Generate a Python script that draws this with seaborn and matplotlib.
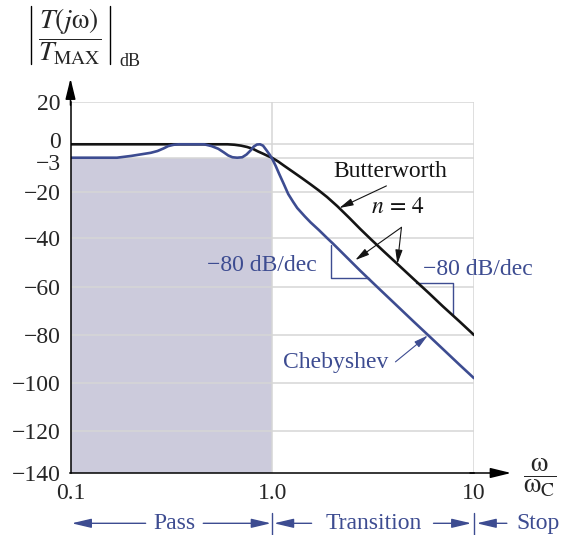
import numpy as np
import pandas as pd
import matplotlib
matplotlib.use("Agg")
import matplotlib.pyplot as plt
from matplotlib.lines import Line2D
from matplotlib.ticker import LogLocator, NullFormatter, NullLocator
from matplotlib.transforms import ScaledTranslation
import seaborn as sns

# ---- data: magnitude response (dB) versus normalised frequency omega/omega_C, n = 4 ----
butter_w = [0.1, 0.3, 0.5, 0.6, 0.65, 0.7, 0.75, 0.8, 0.85, 0.9, 0.95, 1.0, 1.07, 1.15,
            1.28, 1.4, 1.55, 1.7, 1.87, 2.1, 2.4, 2.73, 3.1, 3.57, 4.17, 5.0, 6.0, 7.0,
            8.5, 10.0]
butter_db = [0.0, 0.0, 0.0, 0.0, -0.1, -0.3, -0.6, -1.0, -1.6, -2.1, -2.6, -3.1, -4.9, -7.15,
             -10.4, -13.15, -16.35, -19.35, -22.3, -26.2, -31.1, -36.0, -40.6, -45.4, -50.6,
             -56.7, -62.8, -68.1, -74.5, -80.0]

cheby_w = [0.1, 0.14, 0.17, 0.2, 0.22, 0.25, 0.27, 0.29, 0.305, 0.325, 0.345, 0.40, 0.46,
           0.50, 0.54, 0.575, 0.605, 0.635, 0.67, 0.71, 0.745, 0.78, 0.81, 0.84, 0.87, 0.90,
           0.935, 0.97, 1.0, 1.04, 1.08, 1.14, 1.2, 1.27, 1.33, 1.45, 1.55, 1.7, 1.87, 2.0,
           2.26, 2.73, 3.37, 4.0, 5.0, 6.0, 7.0, 8.5, 10.0]
cheby_db = [-3.0, -3.0, -3.0, -2.6, -2.3, -1.9, -1.5, -0.9, -0.4, -0.1, 0.0, 0.0, 0.0,
            -0.4, -1.0, -1.8, -2.5, -2.9, -3.0, -2.9, -2.3, -1.4, -0.5, -0.05, 0.0, -0.3,
            -1.3, -2.3, -3.6, -7.1, -10.9, -16.1, -21.0, -24.4, -27.0, -30.6, -33.2, -36.4,
            -39.9, -42.2, -46.6, -53.4, -60.7, -66.6, -74.3, -80.5, -85.8, -92.5, -98.0]

y_ticks = [20, 0, -3, -20, -40, -60, -80, -100, -120, -140]
y_tick_labels = ["20", "0", "\u22123", "\u221220", "\u221240", "\u221260", "\u221280",
                 "\u2212100", "\u2212120", "\u2212140"]
x_ticks = [0.1, 1.0, 10.0]
x_tick_labels = ["0.1", "1.0", "10"]

passband_edge = 1.0
stopband_edge = 10.0
ripple_db = -3

# ---- styling ----
BLUE = "#3d4c91"
BLACK = "#141414"
SHADE = "#cccbdc"
GRID = "#d6d6d6"
FS = 17

sns.set_style("white")
plt.rcParams["font.family"] = ["Liberation Serif", "DejaVu Serif"]
plt.rcParams["mathtext.fontset"] = "stix"
plt.rcParams["axes.unicode_minus"] = True

# The dB axis is drawn schematically: the 0..-3 dB band is stretched.
# Fraction of the axis height at which each tick value sits.
axis_frac = [1.0, 0.8848, 0.8487, 0.7572, 0.6318, 0.5015, 0.3715, 0.2423, 0.1131, 0.0]
_xp = np.array(y_ticks[::-1], float)
_fp = np.array(axis_frac[::-1], float)
_s0 = (_fp[1] - _fp[0]) / (_xp[1] - _xp[0])
_s1 = (_fp[-1] - _fp[-2]) / (_xp[-1] - _xp[-2])


def db_forward(v):
    v = np.asarray(v, float)
    return np.where(v < _xp[0], _fp[0] + (v - _xp[0]) * _s0,
                    np.where(v > _xp[-1], _fp[-1] + (v - _xp[-1]) * _s1,
                             np.interp(v, _xp, _fp)))


def db_inverse(p):
    p = np.asarray(p, float)
    return np.where(p < _fp[0], _xp[0] + (p - _fp[0]) / _s0,
                    np.where(p > _fp[-1], _xp[-1] + (p - _fp[-1]) / _s1,
                             np.interp(p, _fp, _xp)))


W, H = 562, 535
fig = plt.figure(figsize=(W / 100, H / 100), dpi=100)
ax = fig.add_axes([70.5 / W, (H - 473) / H, (474 - 70.5) / W, (473 - 101.5) / H])
ax.set_xscale("log")
ax.set_yscale("function", functions=(db_forward, db_inverse))
ax.set_xlim(0.1, 10)
ax.set_ylim(-140, 20)

# pass band shading
ax.fill_between([0.1, passband_edge], -140, ripple_db, color=SHADE, lw=0, zorder=0.5)

# grid
for v in y_ticks[:-1]:
    ax.plot([0.1, 10], [v, v], color=GRID, lw=1.1, zorder=1)
for xv in (passband_edge, stopband_edge):
    ax.plot([xv, xv], [-140, 20], color=GRID, lw=1.1, zorder=1)

# response curves
df = pd.concat([
    pd.DataFrame({"w": butter_w, "db": butter_db, "filter": "Butterworth"}),
    pd.DataFrame({"w": cheby_w, "db": cheby_db, "filter": "Chebyshev"}),
], ignore_index=True)
sns.lineplot(data=df, x="w", y="db", hue="filter", hue_order=["Butterworth", "Chebyshev"],
             palette={"Butterworth": BLACK, "Chebyshev": BLUE}, estimator=None, sort=False,
             legend=False, linewidth=1.9, ax=ax, zorder=4)
for ln in ax.get_lines()[-2:]:
    ln.set_solid_joinstyle("round")
ax.set_xlabel("")
ax.set_ylabel("")

# axes, ticks
for s in ("top", "right"):
    ax.spines[s].set_visible(False)
for s in ("left", "bottom"):
    ax.spines[s].set_color("black")
    ax.spines[s].set_linewidth(1.1)
    ax.spines[s].set_zorder(5)

ax.set_xticks(x_ticks, x_tick_labels)
ax.xaxis.set_minor_locator(LogLocator(base=10, subs=np.arange(2, 10)))
ax.xaxis.set_minor_formatter(NullFormatter())
ax.tick_params(axis="x", which="both", direction="in", length=7, width=1.0, color="black",
               labelsize=FS, pad=7)
ax.set_yticks(y_ticks, y_tick_labels)
ax.yaxis.set_minor_locator(NullLocator())
ax.tick_params(axis="y", which="both", length=0, labelsize=FS, pad=7)

# separate the crowded 0 / -3 labels a little
for lbl in ax.get_yticklabels():
    if lbl.get_text() == "0":
        lbl.set_transform(lbl.get_transform() + ScaledTranslation(0, 3 / 72, fig.dpi_scale_trans))
    elif lbl.get_text() == "\u22123":
        lbl.set_transform(lbl.get_transform() + ScaledTranslation(0, -3 / 72, fig.dpi_scale_trans))

# axis arrows
axis_head = dict(arrowstyle="-|>,head_length=0.9,head_width=0.22", color="black",
                 lw=1.1, mutation_scale=14, shrinkA=0, shrinkB=0)
ax.annotate("", xy=(0, 1.062), xytext=(0, 0.99), xycoords="axes fraction",
            arrowprops=axis_head, annotation_clip=False)
ax.annotate("", xy=(1.092, 0), xytext=(0.99, 0), xycoords="axes fraction",
            arrowprops=axis_head, annotation_clip=False)

# curve labels
ax.text(3.83, -12.5, "Butterworth", ha="center", va="baseline", fontsize=FS, color=BLACK,
        zorder=6)
ax.text(4.17, -29.0, r"$n\,=\,4$", ha="center", va="baseline", fontsize=FS, color=BLACK,
        zorder=6)
ax.text(0.885, -53.6, "\u221280 dB/dec", ha="center", va="baseline", fontsize=FS, color=BLUE,
        zorder=6)
ax.text(10.5, -55.2, "\u221280 dB/dec", ha="center", va="baseline", fontsize=FS, color=BLUE,
        zorder=6, clip_on=False)
ax.text(2.07, -93.9, "Chebyshev", ha="center", va="baseline", fontsize=FS, color=BLUE,
        zorder=6)

thin_head = "-|>,head_length=0.7,head_width=0.18"
for tip, tail, col in [((2.15, -27.0), (3.68, -17.1), BLACK),
                       ((2.58, -49.0), (4.37, -35.3), BLACK),
                       ((4.17, -50.6), (4.37, -35.3), BLACK),
                       ((5.9, -80.2), (4.08, -91.2), BLUE)]:
    ax.annotate("", xy=tip, xytext=tail,
                arrowprops=dict(arrowstyle=thin_head, color=col, lw=0.8, mutation_scale=12,
                                shrinkA=0, shrinkB=0))

# -80 dB/dec slope brackets
ax.plot([1.96, 1.96, 3.0], [-42.8, -56.4, -56.4], color=BLUE, lw=1.0, zorder=3)
ax.plot([5.13, 7.9, 7.9], [-58.5, -58.5, -71.7], color=BLUE, lw=1.0, zorder=3)

# band labels under the frequency axis
xt = ax.get_xaxis_transform()
band_y = -0.1354
text_y = -0.1500
for xv in (passband_edge, stopband_edge):
    ax.plot([xv, xv], [-0.1077, -0.175], color=BLUE, lw=1.0, transform=xt, clip_on=False)

band_arrow = dict(arrowstyle="-|>,head_length=0.85,head_width=0.2", color=BLUE, lw=1.0,
                  mutation_scale=14, shrinkA=0, shrinkB=0)
for tail, tip in [(0.2357, 0.1014), (0.455, 0.985), (1.567, 1.02), (6.3, 9.7), (14.55, 10.3)]:
    ax.annotate("", xy=(tip, band_y), xytext=(tail, band_y), xycoords=xt, textcoords=xt,
                arrowprops=band_arrow, annotation_clip=False)
ax.text(0.329, text_y, "Pass", transform=xt, ha="center", va="baseline", fontsize=FS,
        color=BLUE)
ax.text(3.17, text_y, "Transition", transform=xt, ha="center", va="baseline", fontsize=FS,
        color=BLUE)
ax.text(16.3, text_y, "Stop", transform=xt, ha="left", va="baseline", fontsize=FS,
        color=BLUE)


# axis titles
def fx(px):
    return px / W


def fy(py):
    return 1 - py / H


fig.text(fx(70), fy(37), r"$\dfrac{T(j\mathrm{ω})}{T_{\mathrm{MAX}}}$",
         ha="center", va="center", fontsize=20)
for bx in (31, 110):
    fig.add_artist(Line2D([fx(bx), fx(bx)], [fy(6), fy(64)], color="black", lw=1.0))
fig.text(fx(119), fy(61), "dB", ha="left", va="center", fontsize=13)
fig.text(fx(540), fy(478), r"$\dfrac{\mathrm{ω}}{\mathrm{ω}_{\mathrm{C}}}$",
         ha="center", va="center", fontsize=20)

fig.savefig("out.png", dpi=100)
